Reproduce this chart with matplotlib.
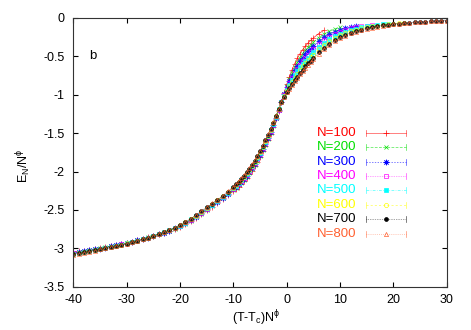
"""Scaling collapse of E_N / N^phi against (T - Tc) N^phi, panel b."""

import matplotlib
matplotlib.use("Agg")
import matplotlib.pyplot as plt
from matplotlib.ticker import FormatStrFormatter

plt.rcParams.update({
    "font.family": ["Liberation Sans", "DejaVu Sans"],
    "mathtext.fontset": "custom",
    "mathtext.rm": "Liberation Sans",
    "mathtext.it": "Liberation Sans",
    "axes.unicode_minus": False,
    "font.size": 9,
})

# ── data: shared scaled-temperature grid, one energy list per system size ──
X = [-40, -39, -38, -37, -36, -35, -34, -33, -32, -31,
     -30, -29, -28, -27, -26, -25, -24, -23, -22, -21,
     -20, -19, -18, -17, -16, -15, -14, -13, -12, -11,
     -10, -9.5, -9, -8.5, -8, -7.5, -7, -6.5, -6, -5.5,
     -5, -4.5, -4, -3.5, -3, -2.5, -2, -1.5, -1, -0.5,
     0, 0.5, 1, 1.5, 2, 2.5, 3, 3.5, 4, 4.5,
     5, 6, 7, 8, 9, 10, 11, 12, 13, 14,
     15, 16, 17, 18, 19, 20, 21, 22, 23, 24,
     25, 26, 27, 28, 29, 30]

E100 = [-3.050, -3.039, -3.028, -3.017, -3.006, -2.994, -2.982, -2.969, -2.956, -2.942,
        -2.928, -2.912, -2.895, -2.877, -2.858, -2.838, -2.817, -2.795, -2.771, -2.745,
        -2.716, -2.682, -2.643, -2.600, -2.554, -2.505, -2.457, -2.409, -2.360, -2.309,
        -2.255, -2.225, -2.195, -2.162, -2.125, -2.083, -2.037, -1.986, -1.932, -1.872,
        -1.808, -1.737, -1.665, -1.587, -1.507, -1.418, -1.315, -1.205, -1.090, -0.975,
        -0.865, -0.765, -0.674, -0.594, -0.524, -0.463, -0.411, -0.366, -0.326, -0.291,
        -0.260, -0.203, -0.160]

E200 = [-3.056, -3.045, -3.033, -3.022, -3.010, -2.998, -2.986, -2.972, -2.959, -2.944,
        -2.930, -2.914, -2.896, -2.878, -2.858, -2.838, -2.816, -2.794, -2.769, -2.742,
        -2.712, -2.677, -2.637, -2.593, -2.546, -2.497, -2.448, -2.400, -2.350, -2.298,
        -2.243, -2.212, -2.181, -2.147, -2.110, -2.067, -2.021, -1.970, -1.916, -1.856,
        -1.792, -1.722, -1.650, -1.573, -1.494, -1.406, -1.306, -1.200, -1.092, -0.986,
        -0.886, -0.796, -0.714, -0.640, -0.575, -0.517, -0.467, -0.423, -0.383, -0.348,
        -0.316, -0.255, -0.209, -0.172, -0.145, -0.121]

E300 = [-3.061, -3.050, -3.038, -3.026, -3.014, -3.002, -2.989, -2.975, -2.961, -2.947,
        -2.932, -2.915, -2.897, -2.879, -2.859, -2.838, -2.816, -2.793, -2.767, -2.739,
        -2.708, -2.672, -2.631, -2.587, -2.539, -2.489, -2.441, -2.392, -2.342, -2.289,
        -2.232, -2.200, -2.168, -2.134, -2.096, -2.053, -2.007, -1.956, -1.902, -1.842,
        -1.778, -1.708, -1.637, -1.560, -1.482, -1.396, -1.298, -1.196, -1.094, -0.996,
        -0.905, -0.824, -0.749, -0.682, -0.621, -0.566, -0.518, -0.474, -0.435, -0.399,
        -0.366, -0.303, -0.253, -0.213, -0.181, -0.153, -0.131, -0.113, -0.104]

E400 = [-3.066, -3.054, -3.042, -3.030, -3.018, -3.005, -2.992, -2.977, -2.963, -2.948,
        -2.933, -2.916, -2.898, -2.879, -2.859, -2.838, -2.815, -2.792, -2.765, -2.736,
        -2.704, -2.668, -2.627, -2.582, -2.533, -2.483, -2.434, -2.385, -2.335, -2.281,
        -2.223, -2.191, -2.158, -2.123, -2.084, -2.041, -1.995, -1.944, -1.890, -1.830,
        -1.767, -1.696, -1.625, -1.549, -1.472, -1.387, -1.291, -1.192, -1.095, -1.004,
        -0.921, -0.847, -0.779, -0.717, -0.660, -0.607, -0.560, -0.517, -0.478, -0.441,
        -0.407, -0.342, -0.290, -0.246, -0.211, -0.180, -0.155, -0.134, -0.122, -0.109,
        -0.098, -0.088]

E500 = [-3.070, -3.058, -3.045, -3.033, -3.021, -3.007, -2.994, -2.980, -2.965, -2.950,
        -2.935, -2.917, -2.899, -2.880, -2.859, -2.838, -2.815, -2.791, -2.764, -2.734,
        -2.702, -2.665, -2.623, -2.577, -2.528, -2.478, -2.429, -2.379, -2.328, -2.274,
        -2.215, -2.182, -2.149, -2.113, -2.074, -2.031, -1.984, -1.933, -1.879, -1.820,
        -1.757, -1.686, -1.616, -1.540, -1.463, -1.380, -1.285, -1.189, -1.097, -1.011,
        -0.934, -0.867, -0.805, -0.747, -0.693, -0.643, -0.597, -0.554, -0.515, -0.478,
        -0.444, -0.376, -0.322, -0.276, -0.237, -0.204, -0.176, -0.152, -0.137, -0.122,
        -0.109, -0.098, -0.090, -0.081, -0.074]

E600 = [-3.073, -3.061, -3.048, -3.036, -3.023, -3.010, -2.996, -2.981, -2.967, -2.951,
        -2.936, -2.918, -2.900, -2.880, -2.860, -2.838, -2.815, -2.790, -2.762, -2.732,
        -2.699, -2.662, -2.619, -2.573, -2.524, -2.473, -2.424, -2.374, -2.323, -2.268,
        -2.208, -2.174, -2.140, -2.104, -2.065, -2.021, -1.975, -1.924, -1.870, -1.810,
        -1.747, -1.677, -1.607, -1.531, -1.455, -1.373, -1.280, -1.186, -1.098, -1.018,
        -0.947, -0.886, -0.828, -0.775, -0.724, -0.675, -0.630, -0.588, -0.549, -0.512,
        -0.477, -0.407, -0.351, -0.303, -0.261, -0.225, -0.195, -0.169, -0.152, -0.135,
        -0.120, -0.108, -0.098, -0.088, -0.080, -0.072, -0.067, -0.061]

E700 = [-3.078, -3.065, -3.052, -3.039, -3.026, -3.013, -2.999, -2.984, -2.969, -2.953,
        -2.937, -2.919, -2.901, -2.881, -2.860, -2.838, -2.814, -2.789, -2.761, -2.729,
        -2.696, -2.658, -2.614, -2.568, -2.518, -2.467, -2.417, -2.367, -2.315, -2.260,
        -2.199, -2.165, -2.130, -2.093, -2.053, -2.010, -1.963, -1.912, -1.858, -1.799,
        -1.736, -1.665, -1.595, -1.520, -1.445, -1.364, -1.273, -1.182, -1.099, -1.026,
        -0.963, -0.909, -0.858, -0.810, -0.762, -0.716, -0.672, -0.631, -0.592, -0.554,
        -0.519, -0.447, -0.388, -0.336, -0.291, -0.252, -0.219, -0.190, -0.170, -0.151,
        -0.134, -0.120, -0.107, -0.096, -0.087, -0.078, -0.072, -0.065, -0.059, -0.055,
        -0.050, -0.046, -0.042, -0.038, -0.035, -0.033]

E800 = [-3.080, -3.067, -3.054, -3.041, -3.028, -3.014, -3.000, -2.985, -2.970, -2.954,
        -2.938, -2.920, -2.901, -2.881, -2.860, -2.838, -2.814, -2.789, -2.760, -2.728,
        -2.694, -2.656, -2.612, -2.565, -2.515, -2.464, -2.414, -2.364, -2.312, -2.256,
        -2.195, -2.160, -2.125, -2.088, -2.048, -2.004, -1.957, -1.906, -1.852, -1.793,
        -1.730, -1.660, -1.590, -1.515, -1.440, -1.360, -1.270, -1.180, -1.100, -1.030,
        -0.970, -0.920, -0.872, -0.826, -0.780, -0.735, -0.692, -0.651, -0.612, -0.574,
        -0.538, -0.465, -0.405, -0.352, -0.305, -0.265, -0.230, -0.200, -0.178, -0.158,
        -0.140, -0.125, -0.112, -0.100, -0.090, -0.081, -0.074, -0.067, -0.061, -0.056,
        -0.051, -0.047, -0.043, -0.039, -0.036, -0.033]

LABELS = ["N=100", "N=200", "N=300", "N=400", "N=500", "N=600", "N=700", "N=800"]
SERIES = [E100, E200, E300, E400, E500, E600, E700, E800]

# gnuplot-like styles: colour, marker, filled?, marker size, dash pattern
STYLES = [
    ("#ff0000", "+", True, 4.0, "-"),
    ("#00e000", "x", True, 3.5, (0, (4, 2))),
    ("#0000ff", (8, 2, 0), True, 4.0, (0, (2, 2))),
    ("#ff00ff", "s", False, 3.0, (0, (1, 1.5))),
    ("#00ffff", "s", True, 2.6, (0, (4, 2, 1, 2))),
    ("#ffff00", "o", False, 3.0, (0, (3, 3))),
    ("#000000", "o", True, 2.8, (0, (1, 1.5))),
    ("#ff6030", "^", False, 3.0, (0, (1, 2))),
]


def _draw(ax, ys, style):
    color, marker, filled, ms, ls = style
    ax.plot(X[:len(ys)], ys, color=color, ls=ls, lw=0.5, marker=marker, ms=ms,
            mew=0.5, mfc=color if filled else "none", mec=color, alpha=0.85)


def _legend(ax):
    # hand-drawn key: coloured label, then a sample with end caps and a marker
    x_txt, x0, x1 = 0.758, 0.784, 0.891
    top, step, cap = 0.573, 0.0536, 0.011
    for i, (label, style) in enumerate(zip(LABELS, STYLES)):
        color, marker, filled, ms, ls = style
        y = top - i * step
        ax.text(x_txt, y, label, color=color, fontsize=9.5, ha="right", va="center",
                transform=ax.transAxes)
        ax.plot([x0, x1], [y, y], color=color, ls=ls, lw=0.5, alpha=0.7,
                transform=ax.transAxes)
        for xc in (x0, x1):
            ax.plot([xc, xc], [y - cap, y + cap], color=color, lw=0.5, alpha=0.7,
                    transform=ax.transAxes)
        ax.plot([(x0 + x1) / 2], [y], color=color, marker=marker, ms=ms, mew=0.5,
                mfc=color if filled else "none", mec=color, transform=ax.transAxes)


def main():
    fig = plt.figure(figsize=(4.71, 3.30), dpi=100)
    ax = fig.add_axes([0.1557, 0.1309, 0.7927, 0.8146])

    for ys, style in zip(SERIES, STYLES):
        _draw(ax, ys, style)

    ax.set_xlim(-40, 30)
    ax.set_ylim(-3.5, 0)
    ax.set_xticks([-40, -30, -20, -10, 0, 10, 20, 30])
    ax.set_yticks([0, -0.5, -1, -1.5, -2, -2.5, -3, -3.5])
    ax.yaxis.set_major_formatter(FormatStrFormatter("%g"))
    ax.tick_params(direction="in", length=3.5, width=0.8, top=True, right=True,
                   labelsize=9)
    ax.tick_params(axis="y", pad=6.5)
    ax.tick_params(axis="x", pad=5)
    for s in ax.spines.values():
        s.set_linewidth(0.8)
        s.set_color("#333333")

    ax.set_xlabel(r"$\mathregular{(T\text{-}T_c)N^{\phi}}$", fontsize=9)
    ax.xaxis.set_label_coords(0.49, -0.082)
    ax.set_ylabel(r"$\mathregular{E_N/N^{\phi}}$", fontsize=9)
    ax.yaxis.set_label_coords(-0.108, 0.45)

    ax.text(-36.3, -0.5, "b", fontsize=9.5, ha="center", va="center")

    _legend(ax)

    fig.savefig("out.png", dpi=100)
    plt.close(fig)


if __name__ == "__main__":
    main()
